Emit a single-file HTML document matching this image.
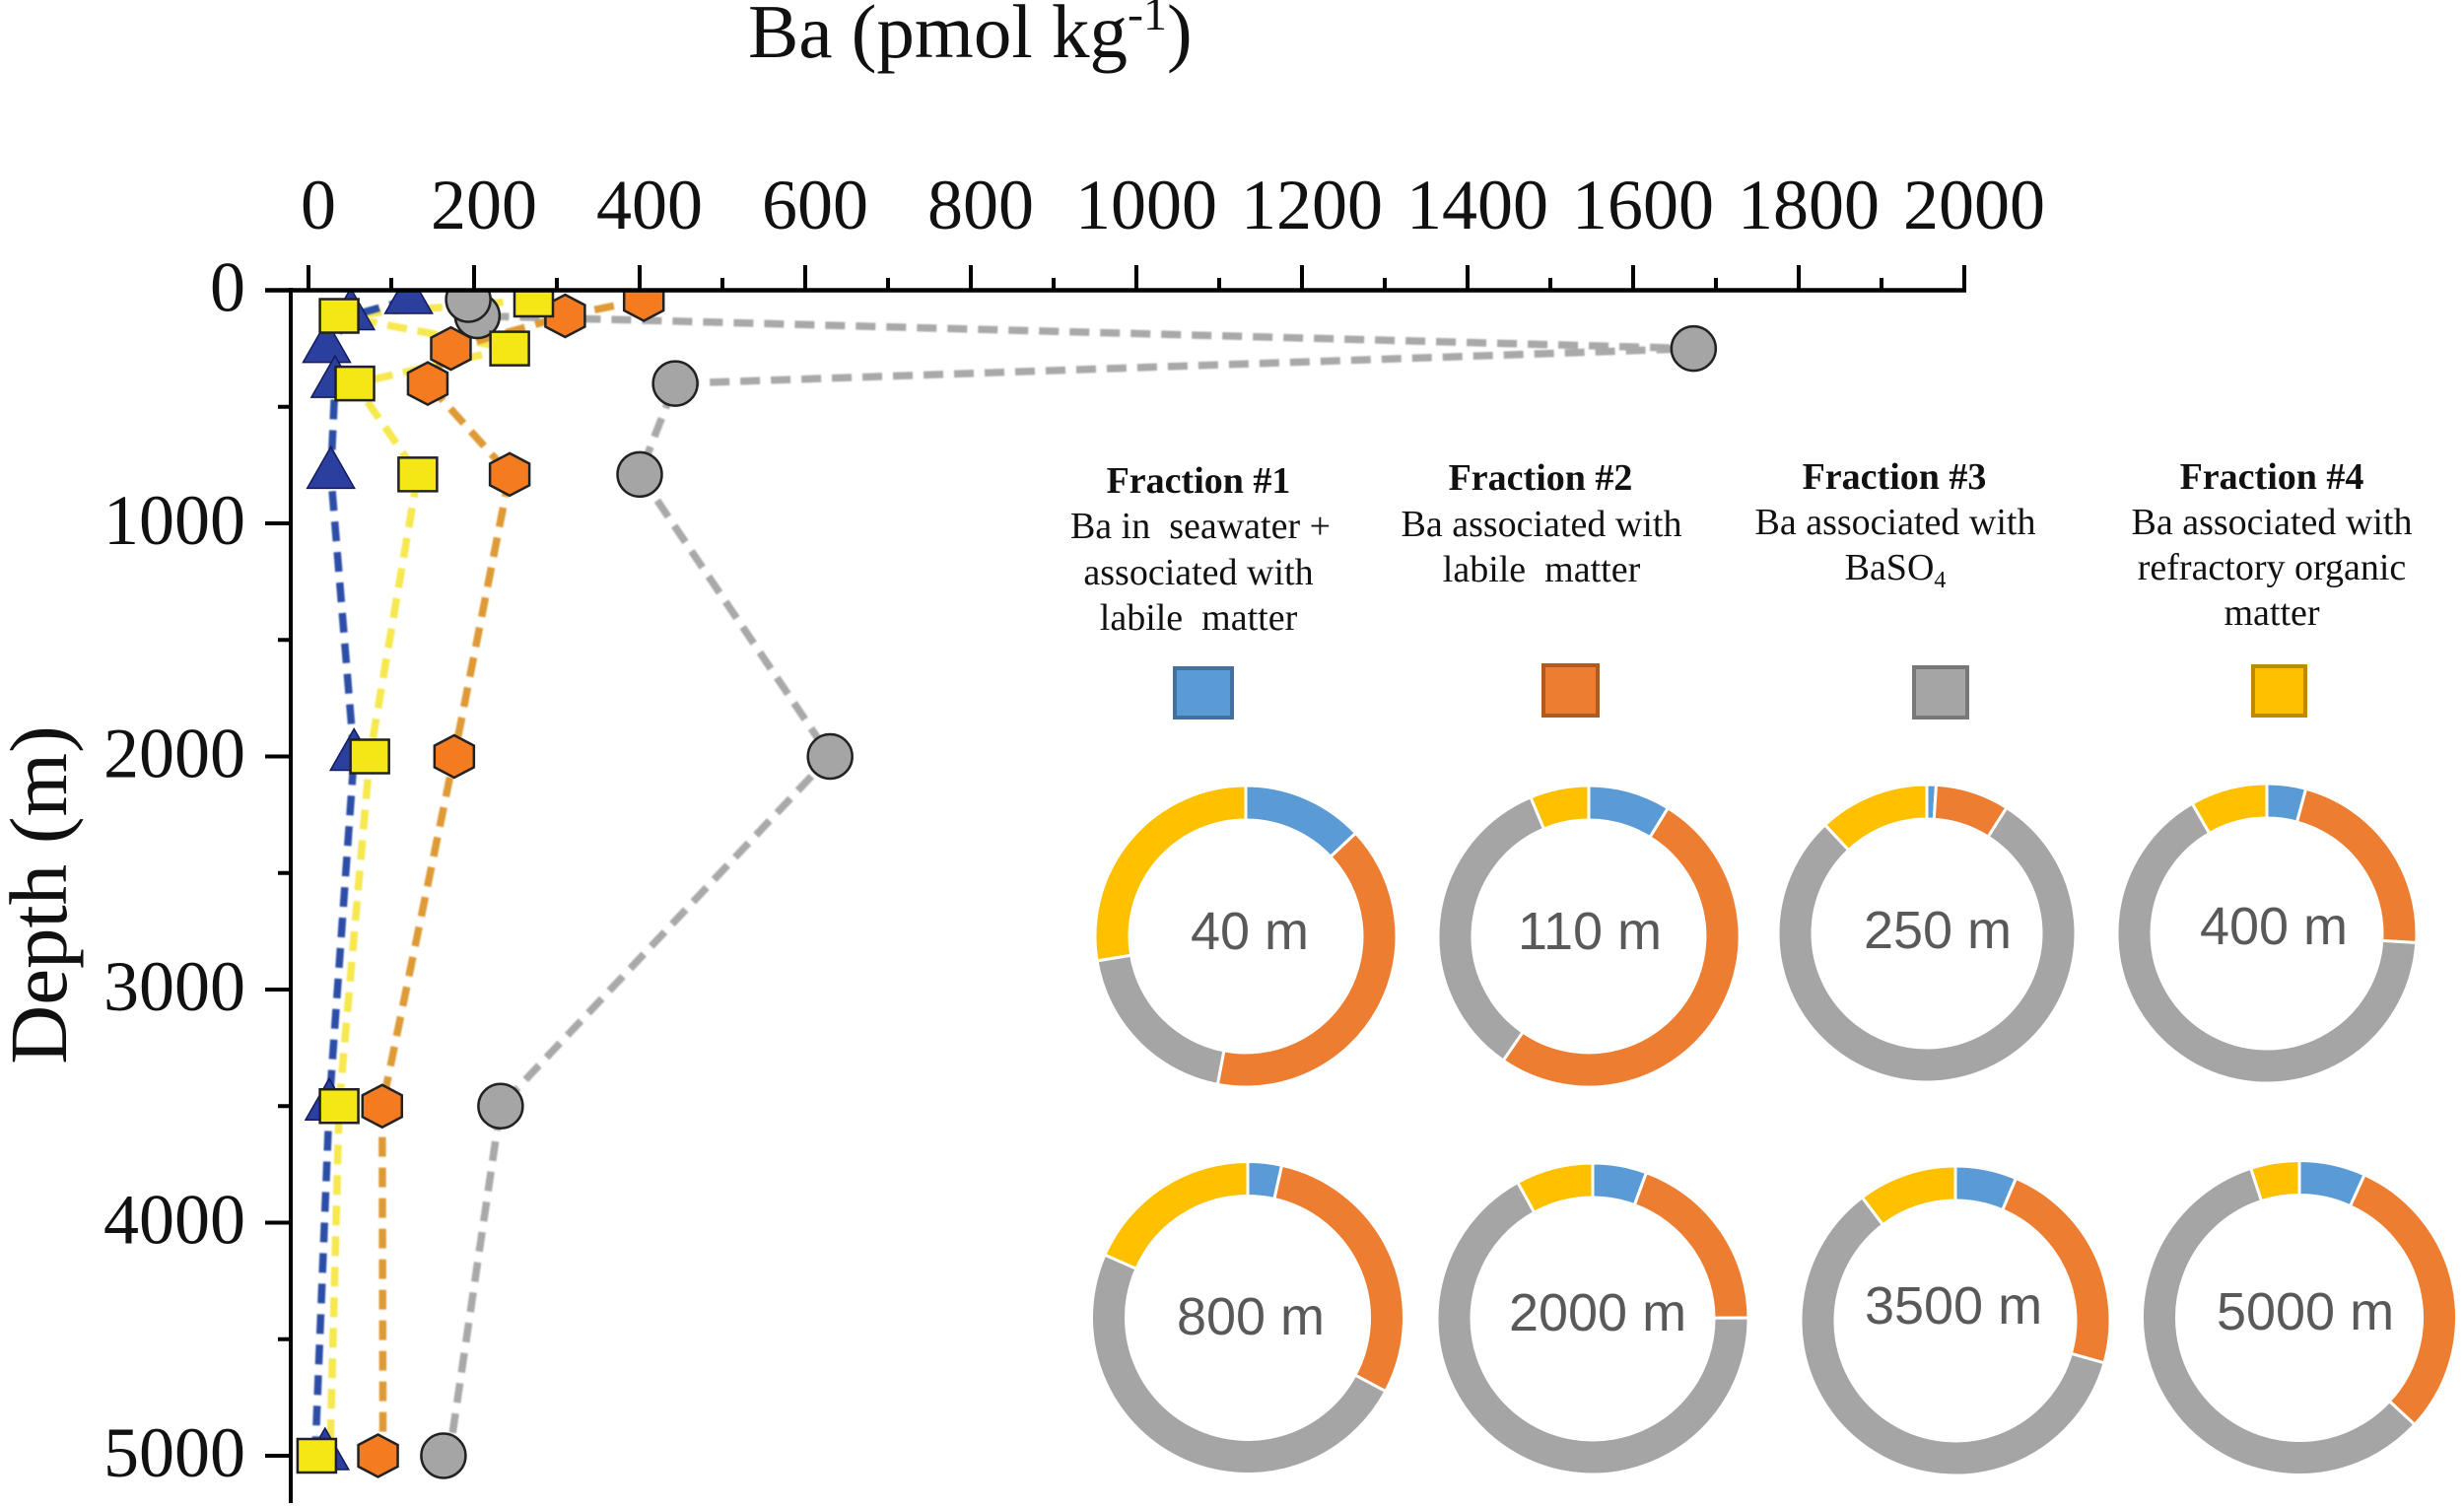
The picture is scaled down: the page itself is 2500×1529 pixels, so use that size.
<!DOCTYPE html>
<html>
<head>
<meta charset="utf-8">
<title>Ba depth profile and fraction donuts</title>
<style>
html,body{margin:0;padding:0;background:#fff;}
svg{display:block;}
text{font-family:"Liberation Serif",serif;fill:#111;}
.num{font-size:72px;}
.frac{font-size:38px;text-anchor:middle;}
.fracb{font-size:38px;font-weight:bold;text-anchor:middle;}
.dl{font-family:"Liberation Sans",sans-serif;font-size:54px;fill:#595959;text-anchor:middle;}
#lines{filter:blur(0.7px);}
</style>
</head>
<body>
<svg id="chart" xmlns="http://www.w3.org/2000/svg" width="2500" height="1529" viewBox="0 0 2500 1529">
  <defs><clipPath id="plot-clip"><rect x="0" y="295" width="2500" height="1234"/></clipPath></defs>
  <rect width="2500" height="1529" fill="#fff"/>
  <text x="759" y="58" font-size="77">Ba (pmol kg<tspan font-size="48" dy="-28">-1</tspan><tspan dy="28">)</tspan></text>
  <text transform="translate(67,908) rotate(-90)" text-anchor="middle" font-size="83">Depth (m)</text>
  <g id="lines"></g>
  <g id="markers" clip-path="url(#plot-clip)"></g>
  <g id="axes"></g>

  <g>
    <text class="fracb" x="1216" y="500">Fraction #1</text>
    <text class="frac" x="1218" y="546" xml:space="preserve">Ba in  seawater +</text>
    <text class="frac" x="1216" y="593">associated with</text>
    <text class="frac" x="1216" y="639" xml:space="preserve">labile  matter</text>
    <rect x="1192" y="678" width="58" height="50" fill="#5b9bd5" stroke="#41719c" stroke-width="4"/>
  </g>
  <g>
    <text class="fracb" x="1563" y="497">Fraction #2</text>
    <text class="frac" x="1564" y="544">Ba associated with</text>
    <text class="frac" x="1564" y="590" xml:space="preserve">labile  matter</text>
    <rect x="1566" y="675" width="55" height="51" fill="#ed7d31" stroke="#ae5a21" stroke-width="4"/>
  </g>
  <g>
    <text class="fracb" x="1922" y="496">Fraction #3</text>
    <text class="frac" x="1923" y="542">Ba associated with</text>
    <text class="frac" x="1923" y="588">BaSO<tspan font-size="24" dy="8">4</tspan></text>
    <rect x="1942" y="677" width="54" height="51" fill="#a5a5a5" stroke="#787878" stroke-width="4"/>
  </g>
  <g>
    <text class="fracb" x="2305" y="496">Fraction #4</text>
    <text class="frac" x="2305" y="542">Ba associated with</text>
    <text class="frac" x="2305" y="588">refractory organic</text>
    <text class="frac" x="2305" y="634">matter</text>
    <rect x="2286" y="676" width="53" height="50" fill="#ffc000" stroke="#bc8c00" stroke-width="4"/>
  </g>
  <g id="donuts"></g>
</svg>
<script>
// Depth profile data (pmol/kg at each depth in metres)
const depths = [40, 110, 250, 400, 790, 2000, 3500, 5000];
const fraction1Ba = [121, 51, 22, 32, 27, 55, 25, 20];
const fraction2Ba = [405, 310, 172, 144, 243, 176, 89, 84];
const fraction3Ba = [193, 204, 1673, 443, 400, 630, 232, 163];
const fraction4Ba = [272, 37, 243, 56, 132, 74, 37, 10];
// In the figure the dashed lines end slightly off their 5000 m markers (pmol/kg)
const lineEndShift = {f1: -12, f2: 6, f3: 7, f4: 16};
const xTicks = [0, 200, 400, 600, 800, 1000, 1200, 1400, 1600, 1800, 2000];
const yTicks = [0, 1000, 2000, 3000, 4000, 5000];

// Donut data (percent of total Ba per fraction at each depth)
const donutLabels = ['40 m', '110 m', '250 m', '400 m', '800 m', '2000 m', '3500 m', '5000 m'];
const donutFraction1 = [13, 8.8, 1, 4.2, 3.5, 5.6, 6.4, 6.8];
const donutFraction2 = [40, 50.8, 8, 21.8, 29.3, 19.3, 23, 30.1];
const donutFraction3 = [19.4, 34.1, 79, 65.7, 48.8, 67.1, 60.3, 58.1];
const donutFraction4 = [27.6, 6.3, 12, 8.3, 18.4, 8, 10.3, 5];

const SVGNS = 'http://www.w3.org/2000/svg';
function make(tag, attrs, parent) {
  const el = document.createElementNS(SVGNS, tag);
  for (const k in attrs) el.setAttribute(k, attrs[k]);
  parent.appendChild(el);
  return el;
}
function xScale(v) { return 313 + v * 0.84; }
function yScale(d) { return 294.5 + d * 0.2365; }

const linesG = document.getElementById('lines');
const markersG = document.getElementById('markers');
const axesG = document.getElementById('axes');
const donutsG = document.getElementById('donuts');

function drawLine(values, shift, color, name) {
  const pts = values.map((v, i) => {
    const val = i === values.length - 1 ? v + shift : v;
    return xScale(val).toFixed(1) + ',' + yScale(depths[i]).toFixed(1);
  }).join(' ');
  const el = make('polyline', {points: pts, fill: 'none', stroke: color, 'stroke-width': 7.5, 'stroke-dasharray': '20 11'}, linesG);
  
  
}
drawLine(fraction3Ba, lineEndShift.f3, '#a9a9a9', 'line-fraction-3');
drawLine(fraction4Ba, lineEndShift.f4, '#f6e84e', 'line-fraction-4');
drawLine(fraction2Ba, lineEndShift.f2, '#de9a35', 'line-fraction-2');
drawLine(fraction1Ba, lineEndShift.f1, '#2c4ea6', 'line-fraction-1');

// Gray points are painted deepest first: the 40 m circle sits over the 110 m one
for (let i = fraction3Ba.length - 1; i >= 0; i--) {
  const el = make('circle', {cx: xScale(fraction3Ba[i]), cy: yScale(depths[i]), r: 22.5, fill: '#a5a5a5', stroke: '#222', 'stroke-width': 2.5}, markersG);
  
  
}
fraction1Ba.forEach((v, i) => {
  const x = xScale(v), y = yScale(depths[i]);
  const el = make('polygon', {points: (x - 24) + ',' + (y + 14) + ' ' + (x + 24) + ',' + (y + 14) + ' ' + x + ',' + (y - 28), fill: '#2b3f9e', stroke: '#141a5c', 'stroke-width': 1.5}, markersG);
  
  
});
fraction2Ba.forEach((v, i) => {
  const x = xScale(v), y = yScale(depths[i]);
  const w = 20, h = 21.5, s = 11;
  const pts = [[x, y - h], [x + w, y - s], [x + w, y + s], [x, y + h], [x - w, y + s], [x - w, y - s]].map(p => p.join(',')).join(' ');
  const el = make('polygon', {points: pts, fill: '#f47b20', stroke: '#222', 'stroke-width': 2.5}, markersG);
  
  
});
fraction4Ba.forEach((v, i) => {
  const x = xScale(v), y = yScale(depths[i]);
  const el = make('rect', {x: x - 19.5, y: y - 17, width: 39, height: 34, fill: '#f5e616', stroke: '#222', 'stroke-width': 2.5}, markersG);
  
  
});

// Axes
const xAxisLine = make('line', {x1: 269, x2: 1995, y1: 294.5, y2: 294.5, stroke: '#000', 'stroke-width': 4.5}, axesG);


const yAxisLine = make('line', {x1: 295, x2: 295, y1: 292, y2: 1525, stroke: '#000', 'stroke-width': 4}, axesG);



xTicks.forEach((v, i) => {
  const x = xScale(v);
  const major = make('line', {x1: x, x2: x, y1: 269, y2: 295, stroke: '#000', 'stroke-width': 4}, axesG);
  
  
  if (i < xTicks.length - 1) {
    const mx = xScale((v + xTicks[i + 1]) / 2);
    const minor = make('line', {x1: mx, x2: mx, y1: 282, y2: 295, stroke: '#000', 'stroke-width': 4}, axesG);
    
    
  }
  const t = make('text', {x: x + 10, y: 232, 'text-anchor': 'middle', class: 'num'}, axesG);
  
  
  t.textContent = v;
});
yTicks.forEach((d, i) => {
  const y = yScale(d);
  const major = make('line', {x1: 269, x2: 295, y1: y, y2: y, stroke: '#000', 'stroke-width': 4}, axesG);
  
  
  if (i < yTicks.length - 1) {
    const my = yScale((d + yTicks[i + 1]) / 2);
    const minor = make('line', {x1: 282, x2: 295, y1: my, y2: my, stroke: '#000', 'stroke-width': 4}, axesG);
    
    
  }
  const t = make('text', {x: 249, y: y + 21, 'text-anchor': 'end', class: 'num'}, axesG);
  
  
  t.textContent = d;
});

// Donuts
const fractionColors = ['#5b9bd5', '#ed7d31', '#a5a5a5', '#ffc000'];
function donutGeometry(index) {
  const col = [1264, 1612, 1955, 2300, 1266, 1616, 1984, 2333];
  const row = [950, 950, 947, 947, 1337, 1338, 1340, 1337];
  const rad = [153, 153, 151, 152, 158.5, 158, 157, 159.5];
  const lx = [1268, 1613, 1966, 2307, 1269, 1621, 1982, 2339];
  const ly = [963, 963, 962, 958, 1354, 1350, 1343, 1349];
  return {cx: col[index], cy: row[index], R: rad[index], lx: lx[index], ly: ly[index]};
}
function arcPath(cx, cy, R, r, a0, a1) {
  const large = a1 - a0 > Math.PI ? 1 : 0;
  const p = (rad, ang) => (cx + rad * Math.sin(ang)).toFixed(2) + ' ' + (cy - rad * Math.cos(ang)).toFixed(2);
  return 'M' + p(R, a0) + ' A' + R + ' ' + R + ' 0 ' + large + ' 1 ' + p(R, a1) +
         ' L' + p(r, a1) + ' A' + r + ' ' + r + ' 0 ' + large + ' 0 ' + p(r, a0) + ' Z';
}
donutLabels.forEach((label, i) => {
  const g = donutGeometry(i);
  const group = make('g', {}, donutsG);
  
  
  const vals = [donutFraction1[i], donutFraction2[i], donutFraction3[i], donutFraction4[i]];
  const total = vals.reduce((a, b) => a + b, 0);
  let a = 0;
  vals.forEach((v, k) => {
    const next = a + v / total * Math.PI * 2;
    const seg = make('path', {d: arcPath(g.cx, g.cy, g.R, g.R - 35, a, next), fill: fractionColors[k], stroke: '#fff', 'stroke-width': 3}, group);
    
    
    a = next;
  });
  const t = make('text', {x: g.lx, y: g.ly, class: 'dl'}, group);
  
  
  t.textContent = label;
});
</script>
</body>
</html>
